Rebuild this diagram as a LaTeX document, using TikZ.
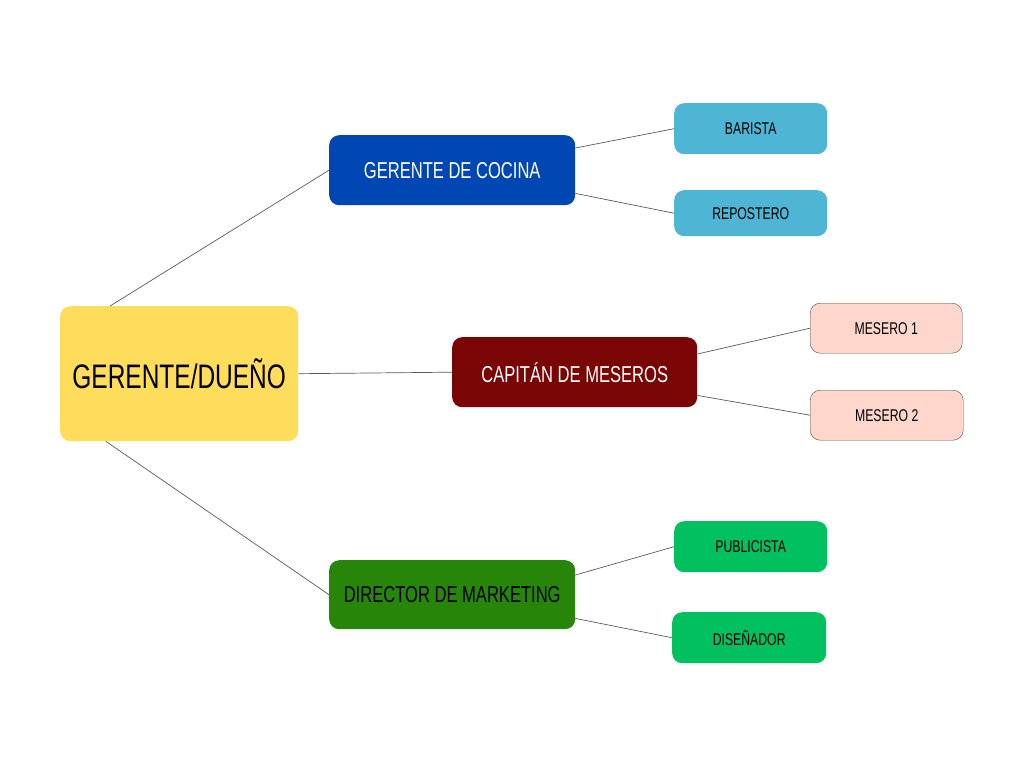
\documentclass[tikz,border=0pt]{standalone}
\usepackage{fontspec}
\setmainfont[FakeStretch=0.72]{Liberation Sans}
\begin{document}
\begin{tikzpicture}[x=1pt,y=-1pt,
 box/.style={rounded corners=10pt,inner sep=0pt,anchor=north west},
 mid/.style={box,font=\fontsize{23}{26}\selectfont,text=white},
 small/.style={box,font=\fontsize{17}{20}\selectfont,text=black},
 ln/.style={draw=black!65,line width=0.7pt}]
\useasboundingbox (0,0) rectangle (1024,768);
\definecolor{yel}{HTML}{FFDD5C}\definecolor{blu}{HTML}{0047B3}
\definecolor{dred}{HTML}{7A0505}\definecolor{grn}{HTML}{27850A}
\definecolor{lblu}{HTML}{4FB5D5}\definecolor{pink}{HTML}{FFD6CC}
\definecolor{lgrn}{HTML}{00C060}
\node[box,fill=yel,minimum width=238pt,minimum height=135pt,font=\fontsize{34}{38}\selectfont] (root) at (60,306) {GERENTE/DUEÑO};
\node[mid,fill=blu,minimum width=246pt,minimum height=70pt] (coc) at (329,135) {GERENTE DE COCINA};
\node[mid,fill=dred,minimum width=245pt,minimum height=70pt] (cap) at (452,337) {CAPITÁN DE MESEROS};
\node[mid,fill=grn,minimum width=246pt,minimum height=69pt,text=black] (dir) at (329,560) {DIRECTOR DE MARKETING};
\node[small,fill=lblu,minimum width=153pt,minimum height=51pt] (bar) at (674,103) {BARISTA};
\node[small,fill=lblu,minimum width=153pt,minimum height=46pt] (rep) at (674,190) {REPOSTERO};
\node[small,fill=pink,draw=black!70,minimum width=152pt,minimum height=50pt] (m1) at (810,303) {MESERO 1};
\node[small,fill=pink,draw=black!70,minimum width=153pt,minimum height=50pt] (m2) at (810,390) {MESERO 2};
\node[small,fill=lgrn,minimum width=153pt,minimum height=51pt] (pub) at (674,521) {PUBLICISTA};
\node[small,fill=lgrn,minimum width=154pt,minimum height=51pt] (dis) at (672,612) {DISEÑADOR};
\draw[ln] ([xshift=50pt]root.north west) -- (coc.west);
\draw[ln] (root.east) -- (cap.west);
\draw[ln] ([xshift=46pt]root.south west) -- (dir.west);
\draw[ln] ([yshift=-13pt]coc.north east) -- (bar.west);
\draw[ln] ([yshift=12pt]coc.south east) -- (rep.west);
\draw[ln] ([yshift=-17pt]cap.north east) -- (m1.west);
\draw[ln] ([yshift=12pt]cap.south east) -- (m2.west);
\draw[ln] ([yshift=-15pt]dir.north east) -- (pub.west);
\draw[ln] ([yshift=11pt]dir.south east) -- (dis.west);
\end{tikzpicture}
\end{document}
